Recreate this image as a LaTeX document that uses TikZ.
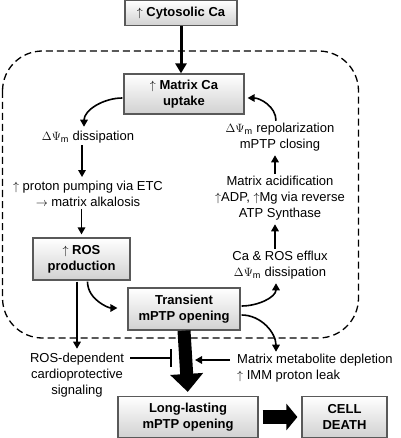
\documentclass[tikz,border=0pt]{standalone}
\usepackage{fontspec}
\setmainfont{Liberation Sans}
\usetikzlibrary{arrows.meta}

\begin{document}
\begin{tikzpicture}[x=1pt,y=-1pt,%
% common options for the boxes:
box/.style = {draw=black!65, line width=1.2pt, top color=white, bottom color=black!18,
            align=center, font=\fontsize{13}{16}\selectfont\bfseries, inner sep=0},
% common options for the plain labels:
txt/.style = {align=center, font=\fontsize{13}{16}\selectfont, inner sep=1pt},
% common options for the arrows:
arr/.style = {line width=1.6pt, -{Triangle[length=7pt,width=7.5pt]},
            shorten >=3pt, shorten <=1pt},
fat/.style = {line width=13pt, -{Triangle[length=18pt,width=32pt]}, shorten >=4pt}]
\useasboundingbox (0,0) rectangle (400,438);
% the mitochondrion
\draw[line width=1.3pt, dash pattern=on 7pt off 4pt, rounded corners=40pt]
  (2.5,51) rectangle (358.5,338);
\node[box,minimum width=112pt,minimum height=25pt] (cyto) at (181,13) {$\uparrow$ Cytosolic Ca};
\node[box,minimum width=120pt,minimum height=40pt] (mca) at (184,94) {$\uparrow$ Matrix Ca\\uptake};
\node[box,minimum width=97pt,minimum height=42pt] (ros) at (81.5,259) {$\uparrow$ ROS\\production};
\node[box,minimum width=112pt,minimum height=42pt] (trans) at (184,309) {Transient\\mPTP opening};
\node[box,minimum width=140pt,minimum height=41pt] (long) at (188,417) {Long-lasting\\mPTP opening};
\node[box,minimum width=85pt,minimum height=41pt] (death) at (344.5,417) {CELL\\DEATH};
\node[txt] (diss) at (88,137) {$\Delta\Psi$\textsubscript{m} dissipation};
\node[txt] (pump) at (88,194) {$\uparrow$ proton pumping via ETC\\$\rightarrow$ matrix alkalosis};
\node[txt] (repol) at (280,137) {$\Delta\Psi$\textsubscript{m} repolarization\\mPTP closing};
\node[txt] (acid) at (280,198) {Matrix acidification\\$\uparrow$ADP, $\uparrow$Mg via reverse\\ATP Synthase};
\node[txt] (efflux) at (280,265) {Ca \& ROS efflux\\$\Delta\Psi$\textsubscript{m} dissipation};
\node[txt] (rossig) at (77,375) {ROS-dependent\\cardioprotective\\signaling};
\node[txt,align=left,anchor=west] (meta) at (236,368) {Matrix metabolite depletion\\$\uparrow$ IMM proton leak};
\coordinate (bar) at (172,358);
\coordinate (hit) at (195,360);
\draw[line width=3pt,-{Triangle[length=10pt,width=11pt]}] (cyto.south) -- (cyto.south |- mca.north);
\draw[arr] ([yshift=-4pt]mca.west) to[out=180,in=90] ([xshift=-4pt]diss.north);
\draw[arr] ([xshift=-4pt]repol.north) to[out=90,in=0] ([yshift=-4pt]mca.east);
\draw[arr] ([xshift=-6pt]diss.south) -- ([xshift=-6pt]pump.north);
\draw[arr] (pump.south -| ros.north) -- (ros.north);
\draw[arr] ([xshift=-5pt]efflux.north) -- ([xshift=-5pt]acid.south);
\draw[arr] ([xshift=-5pt]acid.north) -- ([xshift=-5pt]repol.south);
\draw[arr] (ros.south -| rossig.north) -- (rossig.north);
\draw[arr,shorten >=10pt] ([xshift=6pt]ros.south) to[out=-90,in=180] ([yshift=1pt]trans.west);
\draw[arr] ([yshift=3pt]trans.east) to[out=0,in=-90] ([xshift=-4pt]efflux.south);
\draw[arr,shorten >=1pt] ([yshift=-6pt]trans.east) to[out=0,in=90] ([xshift=40pt]meta.north west);
\draw[line width=1.6pt,-{Bar[width=18pt]}] ([xshift=5pt]bar -| rossig.east) -- (bar);
\draw[arr,shorten >=0pt] ([xshift=-5pt]hit -| meta.west) -- (hit);
\draw[fat] (trans.south) -- (long.north);
\draw[line width=14pt,-{Triangle[length=11pt,width=26pt]},shorten <=4pt,shorten >=4pt]
  (long.east) -- (death.west);
\end{tikzpicture}
\end{document}
